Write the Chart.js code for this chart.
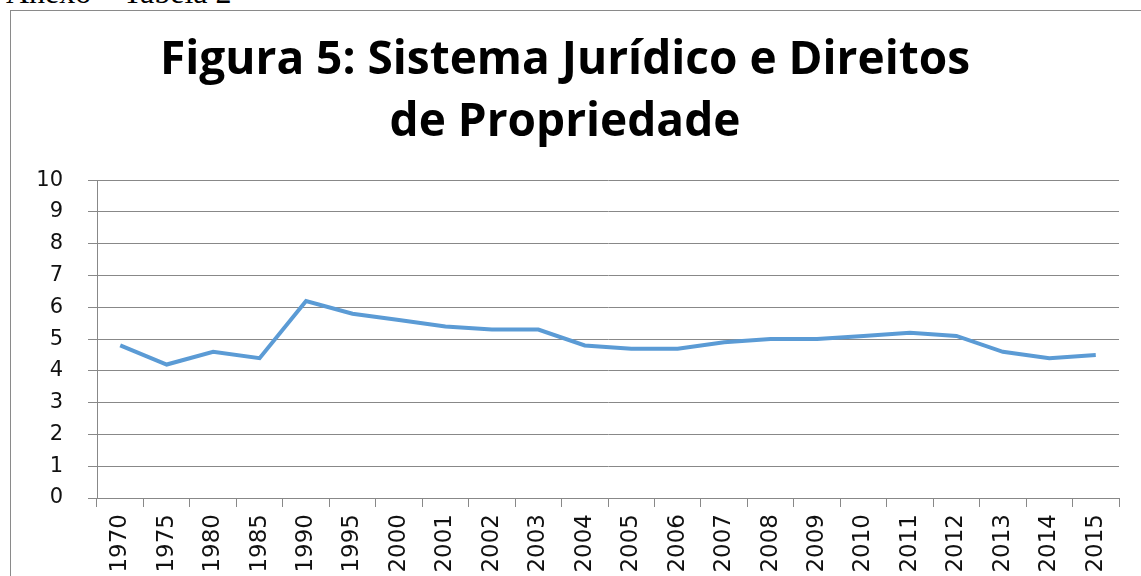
<!DOCTYPE html>
<html>
<head>
<meta charset="utf-8">
<script src="https://cdn.jsdelivr.net/npm/chart.js@4.4.1/dist/chart.umd.min.js"></script>
<style>
  html, body { margin: 0; padding: 0; background: #fff; overflow: hidden; }
  #anexo {
    position: absolute; left: 6px; top: -24px;
    font-family: "Liberation Serif", serif; font-size: 32px; line-height: 32px;
    color: #000; white-space: nowrap;
  }
  #box {
    position: absolute; left: 10px; top: 10px;
    width: 1140px; height: 600px;
    border: 1px solid #8a8a8a;
  }
  #wrap { position: absolute; left: 0; top: 0; width: 1130px; height: 570px; }
</style>
</head>
<body>
<div id="anexo">Anexo – Tabela 2</div>
<div id="box"><div id="wrap"><canvas id="lineChart"></canvas></div></div>
<script>
// DADOS
const anos = ["1970", "1975", "1980", "1985", "1990", "1995", "2000", "2001", "2002", "2003", "2004",
              "2005", "2006", "2007", "2008", "2009", "2010", "2011", "2012", "2013", "2014", "2015"];
const valores = [4.8, 4.2, 4.6, 4.4, 6.2, 5.8, 5.6, 5.4, 5.3, 5.3, 4.8,
                 4.7, 4.7, 4.9, 5.0, 5.0, 5.1, 5.2, 5.1, 4.6, 4.4, 4.5];
const titulo = ["Figura 5: Sistema Jurídico e Direitos", "de Propriedade"];

const cinza = "#888888";

const grafico = new Chart(document.querySelector("#lineChart").getContext("2d"), {
    type: "line",
    data: {
        labels: anos,
        datasets: [
            {
                label: "Sistema Jurídico e Direitos de Propriedade",
                data: valores,
                borderColor: "#5b9bd5",
                borderWidth: 4,
                tension: 0,
                fill: false,
                pointRadius: 0,
                pointHoverRadius: 0
            }
        ]
    },
    options: {
        responsive: true,
        maintainAspectRatio: false,
        animation: false,
        layout: { padding: { left: 0, right: 22, top: 0, bottom: 0 } },

        plugins: {
            legend: { display: false },
            tooltip: { enabled: false },
            title: {
                display: true,
                text: titulo,
                color: "#000",
                font: { family: "Open Sans", size: 46, weight: "bold", lineHeight: 1.35 },
                padding: { top: 19, bottom: 26 }
            }
        },

        scales: {
            x: {
                type: "category",
                offset: true,
                afterFit: (s) => { s.height = 83; },
                ticks: {
                    color: "#111",
                    minRotation: 90,
                    maxRotation: 90,
                    autoSkip: false,
                    padding: 7,
                    font: { family: "DejaVu Sans", size: 23 }
                },
                grid: {
                    offset: true,
                    drawOnChartArea: false,
                    color: cinza,
                    tickLength: 9
                },
                border: { color: cinza, width: 1 }
            },
            y: {
                min: 0,
                max: 10,
                afterFit: (s) => { s.width = 86; },
                ticks: {
                    stepSize: 1,
                    color: "#111",
                    padding: 25,
                    font: { family: "DejaVu Sans", size: 21 }
                },
                grid: {
                    color: cinza,
                    tickLength: 9
                },
                border: { color: cinza, width: 1 }
            }
        }
    }
});
</script>
</body>
</html>
